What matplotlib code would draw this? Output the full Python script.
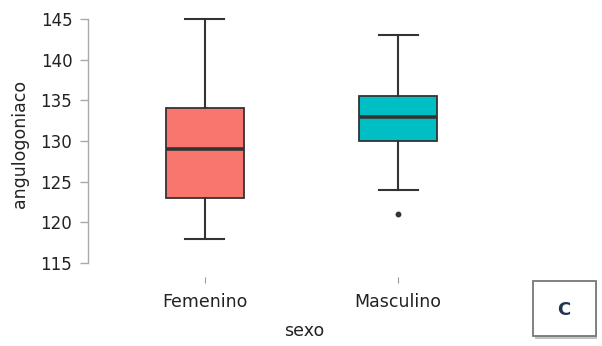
import matplotlib
matplotlib.use("Agg")
import matplotlib.pyplot as plt
from matplotlib.patches import Rectangle

# Box summary statistics per group
categories = ["Femenino", "Masculino"]
whisker_low = [118, 124]
q1 = [123, 130]
median = [129, 133]
q3 = [134, 135.5]
whisker_high = [145, 143]
outliers = [[], [121]]
box_colors = ["#F8766D", "#00BFC4"]
y_ticks = [115, 120, 125, 130, 135, 140, 145]

W, H = 602, 346
fig = plt.figure(figsize=(W / 100, H / 100), dpi=100)

# axes placement in pixels
ax_left, ax_right, ax_top, ax_bottom = 88, 520, 10, 277
ax = fig.add_axes([ax_left / W, 1 - ax_bottom / H,
                   (ax_right - ax_left) / W, (ax_bottom - ax_top) / H])

stats = []
for i, name in enumerate(categories):
    stats.append(dict(label=name, whislo=whisker_low[i], q1=q1[i], med=median[i],
                      q3=q3[i], whishi=whisker_high[i], fliers=outliers[i]))

edge = "#333333"
bp = ax.bxp(stats, positions=[1, 2], widths=0.404, patch_artist=True,
            boxprops=dict(edgecolor=edge, linewidth=1.3),
            medianprops=dict(color=edge, linewidth=2.6),
            whiskerprops=dict(color=edge, linewidth=1.5),
            capprops=dict(color=edge, linewidth=1.5),
            flierprops=dict(marker="o", markersize=3.2, markerfacecolor=edge,
                            markeredgecolor=edge))
for patch, c in zip(bp["boxes"], box_colors):
    patch.set_facecolor(c)

ax.set_xlim(0.394, 2.632)
ax.set_ylim(113.28, 146.1)
ax.set_yticks(y_ticks)
ax.set_xticks([1, 2])
ax.set_xticklabels(categories)

for s in ["top", "right", "bottom"]:
    ax.spines[s].set_visible(False)
ax.spines["left"].set_bounds(115, 145)
ax.spines["left"].set_color("#aaaaaa")
ax.spines["left"].set_linewidth(1.0)

ax.tick_params(axis="y", length=5.8, width=1.0, color="#aaaaaa",
               labelsize=12, labelcolor="#222222", pad=5.5)
ax.tick_params(axis="x", length=4.3, width=0.8, color="#999999",
               labelsize=12.5, labelcolor="#222222", pad=7)

ax.set_ylabel("angulogoniaco", fontsize=12.5, color="#222222", labelpad=8)
ax.set_xlabel("sexo", fontsize=12.5, color="#222222", labelpad=8)

# panel tag box in the lower-right corner
fig.patches.append(Rectangle((535 / W, 1 - 339 / H), 62 / W, 56 / H,
                             transform=fig.transFigure, facecolor="#888888",
                             edgecolor="none", alpha=0.5))
fig.patches.append(Rectangle((533 / W, 1 - 336 / H), 63 / W, 55 / H,
                             transform=fig.transFigure, facecolor="white",
                             edgecolor="#777777", linewidth=1.3))
fig.text(564 / W, 1 - 310 / H, "C", fontsize=13, fontweight="bold",
         color="#1F3550", ha="center", va="center")

fig.savefig("out.png", dpi=100)
